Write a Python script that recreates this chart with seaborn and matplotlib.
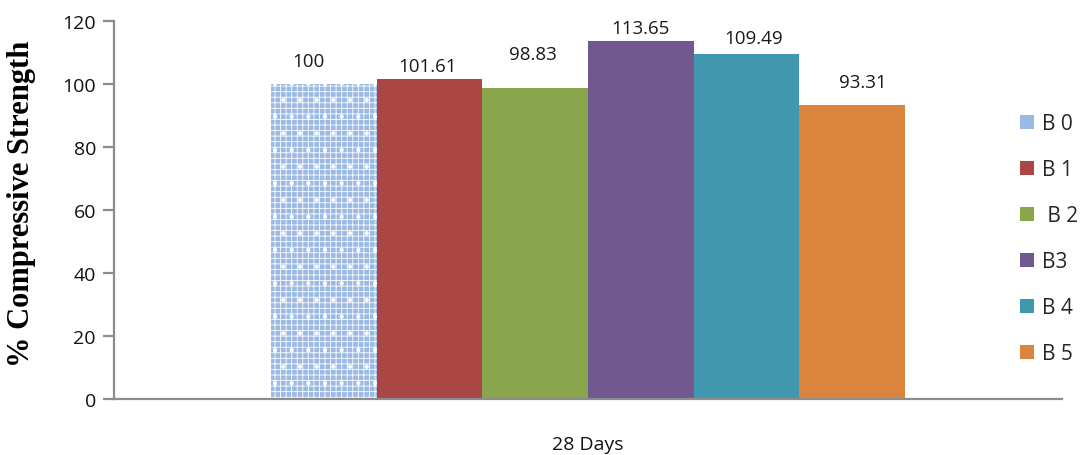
import matplotlib
matplotlib.use("Agg")
import matplotlib.pyplot as plt
import seaborn as sns
import pandas as pd
from matplotlib.patches import Patch

# Data
period = "28 Days"
mixes = ["B 0", "B 1", " B 2", "B3", "B 4", "B 5"]
strength = [100, 101.61, 98.83, 113.65, 109.49, 93.31]
value_labels = ["100", "101.61", "98.83", "113.65", "109.49", "93.31"]
colors = ["#9bb9e5", "#aa4644", "#8aa64c", "#71588f", "#4197ae", "#db843d"]
y_ticks = [0, 20, 40, 60, 80, 100, 120]

df = pd.DataFrame({"period": [period] * len(mixes), "mix": mixes, "strength": strength})

sns.set_style("white")
plt.rcParams["font.family"] = ["Open Sans", "DejaVu Sans"]
plt.rcParams["hatch.color"] = "white"
plt.rcParams["hatch.linewidth"] = 0.6

fig = plt.figure(figsize=(10.85, 4.56), dpi=100)
ax = fig.add_axes([114 / 1085, 1 - 400 / 456, (1062 - 114) / 1085, (400 - 22) / 456])

sns.barplot(data=df, x="period", y="strength", hue="mix", hue_order=mixes,
            palette=colors, saturation=1, width=0.668, legend=False,
            linewidth=0, ax=ax)

# fine checkered pattern with white dots for the reference mix
pattern = "+++."
for bar in ax.containers[0]:
    bar.set_hatch(pattern)
    bar.set_linewidth(0)

# value labels above bars
dx = [-16, -2, -2, 0, 7, 11]
dy = [23, 13, 34, 13, 16, 23]
for i, cont in enumerate(ax.containers):
    bar = cont[0]
    ax.annotate(value_labels[i], (bar.get_x() + bar.get_width() / 2, bar.get_height()),
                xytext=(dx[i], dy[i]), textcoords="offset pixels",
                ha="center", va="center", fontsize=13.5, color="#1a1a1a")

ax.set_ylim(0, 120)
ax.set_yticks(y_ticks)
ax.set_xlim(-0.5, 0.5)

for side in ["top", "right"]:
    ax.spines[side].set_visible(False)
for side in ["left", "bottom"]:
    ax.spines[side].set_color("#8c8c8c")
    ax.spines[side].set_linewidth(1.6)

ax.tick_params(axis="y", which="both", left=True, length=8, width=1.6, color="#8c8c8c",
               pad=5, labelsize=14, labelcolor="#111111")
ax.tick_params(axis="x", length=0, pad=26, labelsize=14, labelcolor="#111111")

ax.set_xlabel("")
ax.set_ylabel("% Compressive Strength", fontsize=22, fontweight="bold",
              family=["Liberation Serif", "DejaVu Serif"], color="black")
ax.yaxis.set_label_coords(-0.082, 0.5185)

handles = [Patch(facecolor=c, edgecolor="none", linewidth=0) for c in colors]
handles[0].set_hatch("+++")
fig.legend(handles, mixes, loc="center left", bbox_to_anchor=(1020 / 1085, 1 - 240 / 456),
           frameon=False, fontsize=15, handlelength=0.66, handleheight=0.66,
           handletextpad=0.4, labelspacing=1.2, borderpad=0, borderaxespad=0)

fig.savefig("out.png", dpi=100)
